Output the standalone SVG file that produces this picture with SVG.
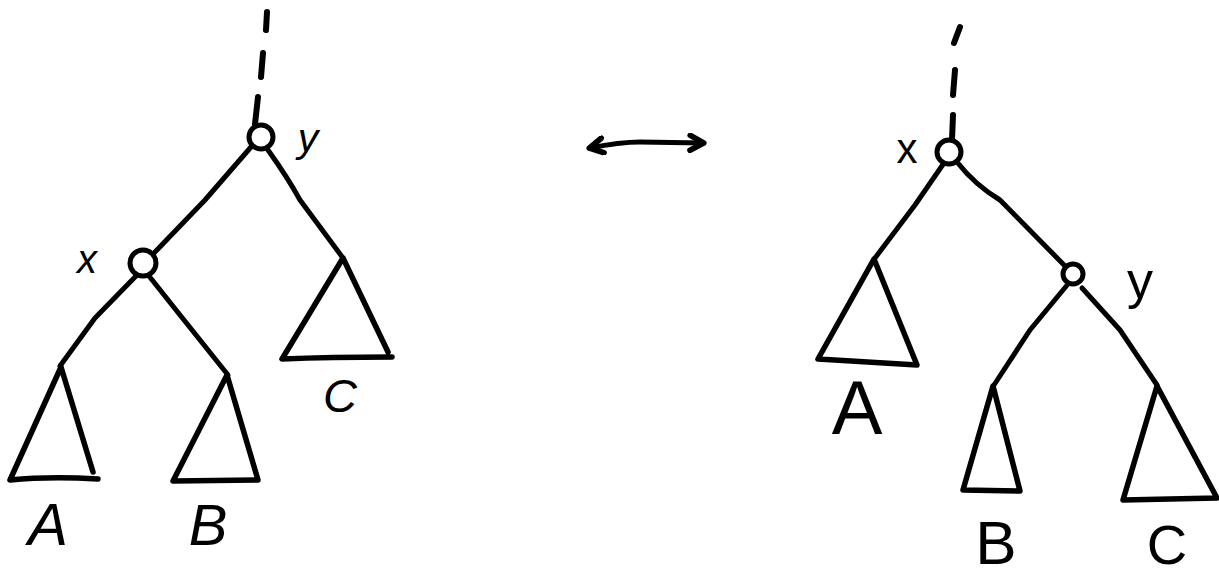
<svg xmlns="http://www.w3.org/2000/svg" width="1219" height="580" viewBox="0 0 1219 580">
<style>
.ln{fill:none;stroke:#000;stroke-width:5;stroke-linecap:round;stroke-linejoin:round}
.ds{fill:none;stroke:#000;stroke-width:6;stroke-linecap:round}
.nd{fill:#fff;stroke:#000;stroke-width:5}
.tri{fill:none;stroke:#000;stroke-width:5.5;stroke-linejoin:round;stroke-linecap:round}
.lb{font-family:"Liberation Sans",Arial,sans-serif;fill:#000;text-anchor:middle}
.it{font-style:italic}
</style>
<defs>
<marker id="ah" viewBox="0 0 14 14" refX="11" refY="7" markerWidth="4" markerHeight="4" orient="auto-start-reverse" markerUnits="strokeWidth">
<path d="M2,1.8 L11.5,7 L2,12.2" fill="none" stroke="#000" stroke-width="4" stroke-linecap="round" stroke-linejoin="round"/>
</marker>
</defs>
<rect width="1219" height="580" fill="#fff"/>

<g id="connectors">
<!-- left tree -->
<path class="ds" d="M267,12 L266,30 M263,53 L261,77 M258,97 L255,124"/>
<path class="ln" d="M251,147 L205,200 L155,252"/>
<path class="ln" d="M268,150 Q288,178 300,200 L343,258"/>
<path class="ln" d="M136,276 L95,318 L60,366"/>
<path class="ln" d="M149,276 L180,315 L228,375"/>
<!-- right tree -->
<path class="ds" d="M960,27 L954,43 M955,70 L953,95 M953,115 L952,140"/>
<path class="ln" d="M944,163 L915,205 L875,258"/>
<path class="ln" d="M957,162 Q975,185 1000,200 L1065,266"/>
<path class="ln" d="M1068,284 L1030,330 L994,385"/>
<path class="ln" d="M1082,288 L1120,330 L1157,385"/>
<!-- rotation arrow -->
<path class="ln" d="M590,148 Q620,142 640,142 L703,143" stroke-width="6" marker-start="url(#ah)" marker-end="url(#ah)"/>
</g>

<g id="left-y">
<circle class="nd" cx="261" cy="137" r="12"/>
<text class="lb it" x="308" y="152" font-size="41">y</text>
</g>
<g id="left-x">
<circle class="nd" cx="143" cy="263" r="13"/>
<text class="lb it" x="87" y="273" font-size="40">x</text>
</g>
<g id="left-A">
<path class="tri" d="M61,367 L93,472 M61,367 L10,480 Q50,476 98,479"/>
<text class="lb it" x="48" y="545" font-size="60">A</text>
</g>
<g id="left-B">
<path class="tri" d="M227,375 L173,481 L258,480 Z"/>
<text class="lb it" x="208" y="545" font-size="58">B</text>
</g>
<g id="left-C">
<path class="tri" d="M343,258 L388,352 M343,258 L282,359 Q330,357 392,357"/>
<text class="lb it" x="340" y="412" font-size="47">C</text>
</g>

<g id="right-x">
<circle class="nd" cx="949" cy="152" r="12"/>
<text class="lb" x="907" y="163" font-size="42">x</text>
</g>
<g id="right-y">
<circle class="nd" cx="1073" cy="274" r="10"/>
<text class="lb" x="1140" y="298" font-size="52">y</text>
</g>
<g id="right-A">
<path class="tri" d="M874,259 L818,359 L917,365 Z"/>
<text class="lb" x="857" y="434" font-size="76">A</text>
</g>
<g id="right-B">
<path class="tri" d="M993,386 L963,490 L1020,491 Z"/>
<text class="lb" x="996" y="564" font-size="62">B</text>
</g>
<g id="right-C">
<path class="tri" d="M1157,386 L1123,500 L1217,498 Z"/>
<text class="lb" x="1167" y="564" font-size="56">C</text>
</g>
</svg>
